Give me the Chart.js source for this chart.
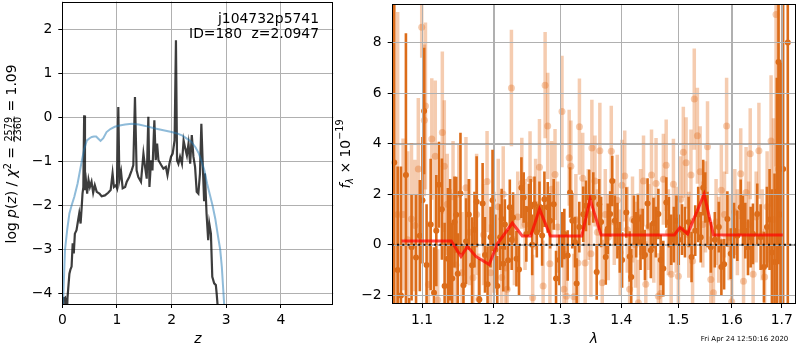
<!DOCTYPE html>
<html lang="en">
	<head>
		<meta charset="UTF-8" />
		<title>p(z) and spectrum</title>
		<script src="https://cdn.jsdelivr.net/npm/chart.js"></script>
		<style>
			body {
				margin: 0;
				width: 800px;
				height: 350px;
				background: #fff;
				position: relative;
				overflow: hidden;
			}
			#pzChart {
				position: absolute;
				left: 0;
				top: 0;
			}
			#specChart {
				position: absolute;
				left: 330px;
				top: 0;
			}
		</style>
	</head>
	<body>
		<canvas id="pzChart" width="340" height="350"></canvas>
		<canvas id="specChart" width="470" height="350"></canvas>
		<script>
			// ---- left panel: log p(z) ----
			const zTicks = [0, 1, 2, 3, 4];
			const pTicks = [-4, -3, -2, -1, 0, 1, 2];

			const zFit = [0.0, 0.02, 0.05, 0.09, 0.13, 0.17, 0.22, 0.28, 0.355, 0.4, 0.45, 0.5, 0.54, 0.58, 0.62, 0.66, 0.7, 0.75, 0.81, 0.88, 0.96, 1.05, 1.15, 1.27, 1.4, 1.55, 1.7, 1.85, 2.0, 2.1, 2.2, 2.28, 2.36, 2.44, 2.5, 2.55, 2.6, 2.65, 2.7, 2.75, 2.8, 2.85, 2.89, 2.92, 2.95, 2.98];
			const pFit = [-4.7, -4.0, -3.0, -2.55, -2.18, -2.0, -1.8, -1.5, -1.0, -0.72, -0.52, -0.47, -0.44, -0.43, -0.43, -0.48, -0.53, -0.47, -0.33, -0.26, -0.21, -0.18, -0.16, -0.14, -0.16, -0.2, -0.25, -0.29, -0.33, -0.36, -0.41, -0.48, -0.55, -0.68, -0.82, -1.0, -1.2, -1.5, -1.75, -2.0, -2.3, -2.7, -3.0, -3.4, -4.0, -4.6];

			const zRaw = [0.0, 0.01, 0.03, 0.05, 0.06, 0.085, 0.095, 0.13, 0.15, 0.17, 0.19, 0.21, 0.23, 0.26, 0.29, 0.31, 0.335, 0.355, 0.37, 0.385, 0.4, 0.415, 0.435, 0.455, 0.48, 0.505, 0.535, 0.565, 0.595, 0.63, 0.68, 0.72, 0.78, 0.84, 0.885, 0.92, 0.945, 0.98, 1.0, 1.025, 1.045, 1.075, 1.105, 1.15, 1.18, 1.225, 1.27, 1.3, 1.33, 1.36, 1.39, 1.44, 1.485, 1.515, 1.545, 1.575, 1.595, 1.625, 1.65, 1.685, 1.71, 1.735, 1.76, 1.81, 1.85, 1.895, 1.925, 1.96, 1.99, 2.02, 2.055, 2.08, 2.1, 2.125, 2.155, 2.19, 2.22, 2.25, 2.28, 2.31, 2.34, 2.37, 2.4, 2.43, 2.46, 2.49, 2.52, 2.545, 2.57, 2.595, 2.61, 2.64, 2.67, 2.69, 2.72, 2.745, 2.78, 2.81, 2.825, 2.84, 2.86];
			const pRaw = [-4.3, -4.1, -4.12, -4.1, -4.5, -4.5, -4.1, -3.55, -3.45, -3.39, -2.86, -3.09, -2.64, -2.56, -2.33, -2.18, -2.41, -2.03, -1.73, -1.58, 0.05, -1.65, -1.46, -1.73, -1.42, -1.58, -1.46, -1.71, -1.54, -1.69, -1.73, -1.79, -1.77, -1.71, -1.65, -1.27, -1.58, -1.54, -1.6, 0.24, -1.42, -1.23, -1.61, -1.58, -1.46, -1.35, -1.2, -1.08, 0.47, -1.2, -1.35, -1.46, -0.82, -1.12, -1.39, 0.02, -1.58, -0.97, -1.2, -0.06, -0.97, -0.59, -0.97, -1.08, -1.16, -1.12, -1.31, -1.05, -0.89, -0.82, -0.52, 1.76, -0.97, -1.05, -0.89, -1.05, -0.52, -0.7, -0.86, -0.59, -1.05, -0.4, -0.89, -1.12, -1.69, -1.73, -1.27, -0.14, -1.05, -1.88, -1.27, -2.18, -2.79, -2.41, -2.64, -3.62, -3.77, -3.81, -4.0, -4.23, -4.6];

			// ---- right panel: spectrum ----
			const lamTicks = [1.1, 1.2, 1.3, 1.4, 1.5, 1.6, 1.7];
			const fTicks = [-2, 0, 2, 4, 6, 8];

			const lamDark = [1.0636, 1.068, 1.0722, 1.0787, 1.083, 1.0861, 1.092, 1.097, 1.1005, 1.1027, 1.106, 1.1115, 1.116, 1.1191, 1.1227, 1.1267, 1.1304, 1.1349, 1.138, 1.1409, 1.144, 1.1464, 1.1485, 1.1523, 1.1565, 1.1602, 1.164, 1.1686, 1.172, 1.1751, 1.1789, 1.1836, 1.187, 1.1907, 1.195, 1.1979,
				1.202, 1.2048, 1.209, 1.2112, 1.2135, 1.2159, 1.2207, 1.2232, 1.226, 1.228, 1.2331, 1.2369, 1.2405, 1.2439, 1.2479, 1.2518, 1.2545, 1.2568, 1.2603, 1.2638, 1.2679, 1.272, 1.2755, 1.2806, 1.2843, 1.2899, 1.2936, 1.2988, 1.303, 1.3066, 1.3119, 1.3157, 1.3193, 1.3236, 1.3262, 1.3305, 1.3369, 1.3412, 1.3466,
				1.3532, 1.3588, 1.363, 1.3661, 1.3738, 1.3771, 1.3811, 1.3846, 1.3889, 1.3933, 1.3973, 1.4012, 1.4084, 1.4141, 1.4168, 1.4215, 1.4253, 1.4282, 1.4328, 1.4366, 1.4405, 1.4451, 1.4508, 1.4555, 1.4595, 1.4641, 1.4682, 1.4729, 1.4782, 1.4829, 1.487, 1.4918, 1.4964, 1.5006, 1.5066, 1.512, 1.5187,
				1.5241, 1.5309, 1.5364, 1.5411, 1.5457, 1.5495, 1.5538, 1.5601, 1.5676, 1.5752, 1.5801, 1.5853, 1.5916, 1.5981, 1.6045, 1.6109, 1.6175, 1.622, 1.6265, 1.6318, 1.6371, 1.6416, 1.6502, 1.6569, 1.6636, 1.6696, 1.675, 1.6797, 1.6851, 1.6898, 1.6932, 1.6973, 1.7027, 1.7123];
			const fluxDark = [3.25, -1.0, -2.0, 2.76, -2.6, -0.1, -0.5, 0.36, 1.76, 5.29, -0.8, 0.8, -1.9, 0.56, 2.37, 1.41, -1.63, -0.55, 0.2, -1.33, 0.9, 1.19, -1.14, 2.03, -1.6, 0.14, 1.2, -0.81, 0.6, 1.7, -2.16, 1.63, -0.4, -1.56, 0.3, 1.76,
				-0.2, -1.63, 0.3, 1.02, -0.75, 0.8, -0.61, 1.48, 0.2, 1.08, -0.55, -0.98, 2.26, 1.87, 0.43, 1.41, 1.5, 0.0, 1.6, 0.5, 1.5, 0.37, 1.8, 1.48, 0.95, 1.6, -1.33, -0.6, 0.2, 0.43, -0.42, 2.07, 0.95, 0.1, -1.53, 0.7, 1.21, 1.54, 1.87,
				1.87, -1.07, 1.6, 0.9, -0.48, 0.63, 1.22, 2.52, 0.95, 0.56, -0.1, -0.6, 1.28, -0.46, -1.27, 0.95, 0.4, 1.02, 0.1, 0.43, -0.4, 1.63, -0.22, 0.85, 0.5, 1.22, -0.6, -0.94, 1.67, 0.89, 0.2, 0.4, 0.95, 0.2, 0.6, 0.5, 0.9,
				-0.48, 0.56, 1.2, 0.3, 2.26, 1.87, 1.0, -0.1, 0.2, 0.7, -0.88, -0.77, 1.02, -0.35, 0.56, 0.36, 1.48, 0.95, 0.56, -0.1, 0.3, 0.43, 1.22, 0.3, -0.88, 0.7, 1.0, -0.3, -0.68, 2.1, 7.23, 1.2, 3.0, 8.0];
			const errDark = [9.0, 4.1, 5.1, 5.6, 0.5, 2.1, 2.5, 2.2, 2.5, 2.5, 2.4, 2.6, 1.8, 2.2, 1.7, 2.0, 2.5, 2.8, 2.4, 2.2, 1.8, 1.5, 1.6, 2.4, 1.6, 1.7, 1.4, 1.9, 1.5, 1.8, 1.6, 1.6, 1.5, 1.5, 1.2, 2.0,
				1.4, 1.2, 1.3, 1.2, 1.1, 1.0, 1.2, 1.1, 1.2, 1.0, 1.1, 1.0, 1.2, 1.0, 1.1, 1.0, 1.1, 1.2, 1.1, 1.0, 1.0, 1.2, 1.1, 1.0, 1.1, 1.0, 1.1, 1.0, 1.1, 1.0, 1.0, 1.0, 1.1, 1.0, 1.0, 1.0, 1.1, 1.0, 1.1,
				1.0, 1.1, 1.0, 1.0, 1.1, 1.0, 0.9, 1.0, 1.0, 1.1, 1.0, 1.1, 1.0, 1.0, 1.1, 1.0, 0.9, 1.0, 1.1, 1.0, 1.0, 1.0, 1.1, 1.0, 1.0, 1.0, 1.0, 1.1, 1.0, 1.0, 1.0, 1.1, 1.0, 1.0, 1.0, 1.0, 1.0,
				1.0, 1.0, 1.1, 1.0, 1.1, 1.0, 1.1, 1.0, 1.1, 1.0, 1.1, 1.0, 1.1, 1.0, 1.1, 1.0, 1.1, 1.0, 1.1, 1.1, 1.2, 1.2, 1.2, 1.3, 1.4, 1.6, 2.0, 2.5, 3.5, 4.5, 8.0, 6.0, 8.0, 12.0];

			const lamLight = [1.068, 1.075, 1.081, 1.086, 1.0905, 1.095, 1.0995, 1.103, 1.1045, 1.1085, 1.113, 1.1177, 1.121, 1.1273, 1.13, 1.134, 1.138, 1.142, 1.146, 1.15, 1.1545, 1.16, 1.165, 1.17, 1.175, 1.1782, 1.185, 1.19, 1.195,
				1.2, 1.2062, 1.2112, 1.2135, 1.217, 1.2193, 1.2256, 1.23, 1.235, 1.2411, 1.246, 1.2535, 1.2575, 1.262, 1.2679, 1.2735, 1.2766, 1.2806, 1.284, 1.2867, 1.292, 1.296, 1.3029, 1.306, 1.31, 1.3143, 1.317, 1.3217, 1.325, 1.3282, 1.3307, 1.336, 1.34, 1.345, 1.3493,
				1.3509, 1.356, 1.36, 1.364, 1.368, 1.373, 1.378, 1.383, 1.388, 1.393, 1.398, 1.401, 1.4057, 1.41, 1.4141, 1.419, 1.424, 1.429, 1.433, 1.438, 1.442, 1.447, 1.452, 1.456, 1.46, 1.464, 1.4682, 1.473, 1.478, 1.482, 1.487, 1.491, 1.496,
				1.5, 1.504, 1.509, 1.514, 1.519, 1.523, 1.526, 1.5291, 1.5349, 1.54, 1.545, 1.55, 1.5538, 1.56, 1.565, 1.57, 1.575, 1.58, 1.586, 1.5901, 1.595, 1.6, 1.606, 1.611, 1.6175, 1.623, 1.628, 1.633, 1.6362, 1.642, 1.648, 1.6535, 1.66, 1.665, 1.67, 1.678, 1.683, 1.6881, 1.693];
			const fluxLight = [1.2, 1.2, 0.2, 1.02, 0.76, 3.0, 8.6, 4.92, 5.49, -1.57, 4.18, 3.5, -2.18, 4.44, 3.11, 1.6, -0.2, 1.9, -0.8, 2.0, -1.1, 2.26, 0.5, -1.3, 1.2, -2.14, 0.4, 2.5, -1.1,
				0.1, 1.5, -1.29, 2.0, -0.92, -1.76, 6.2, 0.2, 1.1, 2.43, 0.8, 2.59, -2.09, 1.6, 3.07, -1.63, 6.31, 4.7, -0.75, 2.2, 2.78, 0.7, 5.27, -1.76, -2.03, 3.44, 3.11, -2.05, 1.0, -0.72, 4.67, 2.63, -0.72, 1.2, -0.35,
				3.83, 2.52, 0.5, 3.72, -1.5, 1.2, 0.3, 3.7, 0.9, 1.76, -0.3, 2.35, 2.72, 0.6, -1.76, 1.0, 0.0, -2.29, 1.3, 2.52, -1.56, 0.7, 2.76, 0.2, 2.42, -2.03, -1.92, 2.59, 3.15, 0.5, -1.16, 2.39, 0.6,
				-1.24, 1.8, 3.66, 3.24, 0.4, 2.76, -0.64, 5.76, 4.31, 2.89, 0.8, 1.5, 3.88, -1.37, -1.9, 0.9, 0.2, 2.16, 1.2, 4.7, 0.3, -2.25, 1.3, 0.5, 2.81, -1.44, 2.07, 0.8, 3.6, -1.16, 1.1, 3.72, 0.4, -1.27, 1.5, 4.1, 1.0, 9.1, 3.0];
			const errLight = [8.0, 3.0, 3.5, 3.0, 2.6, 2.8, 1.2, 3.0, 3.3, 2.5, 2.4, 3.0, 2.0, 3.2, 2.6, 2.0, 2.4, 2.2, 2.0, 2.0, 2.4, 2.0, 2.1, 2.2, 2.4, 1.8, 2.0, 2.0, 1.9,
				2.0, 1.9, 1.8, 1.9, 1.8, 1.7, 2.3, 1.8, 1.8, 1.8, 1.8, 1.9, 1.7, 1.8, 1.9, 1.8, 2.1, 2.1, 1.8, 1.9, 1.8, 1.8, 2.2, 1.7, 1.8, 1.9, 1.8, 1.7, 1.8, 1.8, 1.9, 1.8, 1.7, 1.8, 1.7,
				1.9, 1.8, 1.7, 1.9, 1.7, 1.8, 1.7, 1.8, 1.7, 1.8, 1.7, 1.8, 1.8, 1.7, 1.7, 1.7, 1.7, 1.7, 1.7, 1.8, 1.7, 1.7, 1.8, 1.7, 1.8, 1.7, 1.7, 1.8, 1.8, 1.7, 1.7, 1.8, 1.7,
				1.7, 1.7, 1.8, 1.8, 1.7, 1.8, 1.7, 2.0, 1.9, 1.8, 1.7, 1.8, 1.8, 1.7, 1.7, 1.7, 1.7, 1.8, 1.7, 1.9, 1.7, 1.7, 1.7, 1.7, 1.8, 1.7, 1.8, 1.7, 1.8, 1.7, 1.8, 1.9, 1.8, 1.9, 2.2, 2.6, 4.0, 6.0, 8.0];

			// template fit (red)
			const lamModel = [1.073, 1.1395, 1.153, 1.162, 1.174, 1.193, 1.205, 1.227, 1.2418, 1.2545, 1.268, 1.2848, 1.3345, 1.348, 1.366, 1.4927, 1.503, 1.5168, 1.5474, 1.565, 1.702];
			const fluxModel = [0.15, 0.15, -0.46, -0.07, -0.46, -0.78, 0.04, 0.86, 0.35, 0.35, 1.41, 0.35, 0.35, 1.8, 0.39, 0.39, 0.69, 0.43, 2.0, 0.39, 0.39];

			const FONT = "DejaVu Sans";
			const toPts = (xs, ys) => xs.map((x, i) => ({ x: x, y: ys[i] }));
			const minus = (v) => (v < 0 ? "\u2212" + Math.abs(v) : String(v));

			const fixAxis = (w, h) => (scale) => {
				if (w != null) scale.width = w;
				if (h != null) scale.height = h;
				scale.paddingTop = 0;
				scale.paddingBottom = 0;
				scale.paddingLeft = 0;
				scale.paddingRight = 0;
			};
			const setTicks = (vals) => (scale) => {
				scale.ticks = vals.map((v) => ({ value: v }));
			};

			// rotated label made of pieces (for sub/superscripts and the fraction)
			const drawRich = (ctx, pieces, cx, cy) => {
				let total = 0;
				pieces.forEach((p) => {
					ctx.font = p.font;
					if (p.num) {
						p.w = Math.max(ctx.measureText(p.num).width, ctx.measureText(p.den).width) + 2;
					} else {
						p.w = ctx.measureText(p.t).width;
					}
					total += p.w;
				});
				ctx.save();
				ctx.translate(cx, cy);
				ctx.rotate(-Math.PI / 2);
				ctx.fillStyle = "#000";
				ctx.textBaseline = "alphabetic";
				let u = -total / 2;
				pieces.forEach((p) => {
					ctx.font = p.font;
					if (p.num) {
						ctx.textAlign = "center";
						ctx.fillText(p.num, u + p.w / 2, p.numY);
						ctx.fillText(p.den, u + p.w / 2, p.denY);
						ctx.fillRect(u + 0.5, p.barY, p.w - 1, 0.8);
					} else {
						ctx.textAlign = "left";
						ctx.fillText(p.t, u, p.dy);
					}
					u += p.w;
				});
				ctx.restore();
			};

			const F = `13.9px "${FONT}"`;
			const FI = `italic 13.9px "${FONT}"`;
			const FS = `9.7px "${FONT}"`;
			const FSI = `italic 9.7px "${FONT}"`;

			const frame = {
				id: "frame",
				afterDraw(chart) {
					const a = chart.chartArea;
					const ctx = chart.ctx;
					ctx.save();
					ctx.strokeStyle = "#000";
					ctx.lineWidth = 1;
					ctx.strokeRect(Math.round(a.left) + 0.5, Math.round(a.top) + 0.5, Math.round(a.right - a.left) - 1, Math.round(a.bottom - a.top) - 1);
					ctx.restore();
				},
			};

			const pzLabels = {
				id: "pzLabels",
				afterDraw(chart) {
					const ctx = chart.ctx;
					ctx.save();
					ctx.fillStyle = "#000";
					ctx.font = F;
					ctx.textAlign = "right";
					ctx.textBaseline = "middle";
					ctx.fillText("j104732p5741", 319, 19.5);
					ctx.fillText("ID=180", 242, 34.5);
					ctx.fillText("z=2.0947", 319, 34.5);
					ctx.restore();
					drawRich(ctx, [
						{ t: "log ", font: F, dy: 4.3 },
						{ t: "p", font: FI, dy: 4.3 },
						{ t: "(", font: F, dy: 4.3 },
						{ t: "z", font: FI, dy: 4.3 },
						{ t: ") / ", font: F, dy: 4.3 },
						{ t: "\u03c7", font: FI, dy: 4.3 },
						{ t: "2", font: FS, dy: -1.5 },
						{ t: " = ", font: F, dy: 4.3 },
						{ num: "2579", den: "2360", font: FS, numY: 0, denY: 8.7, barY: 1.8 },
						{ t: " = 1.09", font: F, dy: 4.3 },
					], 12, 154);
				},
			};

			new Chart(document.getElementById("pzChart"), {
				type: "scatter",
				data: {
					datasets: [
						{
							data: toPts(zFit, pFit),
							showLine: true,
							borderColor: "rgba(31, 119, 180, 0.5)",
							borderWidth: 2,
							pointRadius: 0,
							order: 0,
						},
						{
							data: toPts(zRaw, pRaw),
							showLine: true,
							borderColor: "rgba(0, 0, 0, 0.76)",
							borderWidth: 2.2,
							pointRadius: 0,
							order: 1,
						},
					],
				},
				options: {
					responsive: false,
					animation: false,
					clip: 0,
					layout: { padding: { top: 1.5, right: 6.7, left: 0, bottom: 0 } },
					plugins: { legend: { display: false }, tooltip: { enabled: false } },
					scales: {
						x: {
							type: "linear",
							min: 0,
							max: 4.96,
							afterBuildTicks: setTicks(zTicks),
							afterFit: fixAxis(null, 46),
							border: { display: false },
							grid: { color: "#b0b0b0", lineWidth: 1, tickColor: "#000", tickLength: 4 },
							ticks: { color: "#000", font: { family: FONT, size: 13.9 }, padding: 4, maxRotation: 0 },
							title: { display: true, text: "z", color: "#000", font: { family: FONT, size: 13.9, style: "italic" }, padding: { top: 0, bottom: 2 } },
						},
						y: {
							min: -4.24,
							max: 2.64,
							afterBuildTicks: setTicks(pTicks),
							afterFit: fixAxis(62.3, null),
							border: { display: false },
							grid: { color: "#b0b0b0", lineWidth: 1, tickColor: "#000", tickLength: 4 },
							ticks: { color: "#000", font: { family: FONT, size: 13.9 }, padding: 6, callback: (v) => minus(v) },
						},
					},
				},
				plugins: [frame, pzLabels],
			});

			// error bars + grid drawn above the points, below the model line
			const errBars = {
				id: "errBars",
				beforeDatasetDraw(chart, args) {
					const ds = chart.data.datasets[args.index];
					const ctx = chart.ctx;
					const a = chart.chartArea;
					const xs = chart.scales.x;
					const ys = chart.scales.y;
					ctx.save();
					ctx.beginPath();
					ctx.rect(a.left, a.top, a.right - a.left, a.bottom - a.top);
					ctx.clip();
					if (ds.err) {
						ctx.strokeStyle = ds.barColor;
						ctx.lineWidth = ds.barWidth;
						ds.data.forEach((p, i) => {
							const px = xs.getPixelForValue(p.x);
							ctx.beginPath();
							ctx.moveTo(px, ys.getPixelForValue(p.y + ds.err[i]));
							ctx.lineTo(px, ys.getPixelForValue(p.y - ds.err[i]));
							ctx.stroke();
						});
					}
					if (ds.gridBefore) {
						ctx.strokeStyle = "#b0b0b0";
						ctx.lineWidth = 1;
						ctx.beginPath();
						xs.ticks.forEach((t) => {
							const px = Math.round(xs.getPixelForValue(t.value)) + 0.5;
							ctx.moveTo(px, a.top);
							ctx.lineTo(px, a.bottom);
						});
						ys.ticks.forEach((t) => {
							const py = Math.round(ys.getPixelForValue(t.value)) + 0.5;
							ctx.moveTo(a.left, py);
							ctx.lineTo(a.right, py);
						});
						ctx.stroke();
					}
					ctx.restore();
				},
			};

			const specLabels = {
				id: "specLabels",
				afterDraw(chart) {
					const ctx = chart.ctx;
					drawRich(ctx, [
						{ t: "f", font: FI, dy: 4.5 },
						{ t: "\u03bb", font: FSI, dy: 7.5 },
						{ t: " \u00d7 10", font: F, dy: 4.5 },
						{ t: "\u221219", font: FS, dy: -2 },
					], 15, 154);
					ctx.save();
					ctx.fillStyle = "#000";
					ctx.font = `7px "${FONT}"`;
					ctx.textAlign = "right";
					ctx.textBaseline = "middle";
					ctx.fillText("Fri Apr 24 12:50:16 2020", 458.3, 339.5);
					ctx.restore();
				},
			};

			const lamMin = 1.0603;
			const lamMax = 1.7294;

			new Chart(document.getElementById("specChart"), {
				type: "scatter",
				data: {
					datasets: [
						{
							data: toPts(lamLight, fluxLight),
							err: errLight,
							barColor: "rgba(225, 110, 30, 0.35)",
							barWidth: 3.5,
							backgroundColor: "rgba(225, 110, 30, 0.35)",
							borderWidth: 0,
							pointRadius: 3.5,
							order: 3,
						},
						{
							data: toPts(lamDark, fluxDark),
							err: errDark,
							barColor: "rgb(220, 108, 25)",
							barWidth: 2.6,
							backgroundColor: "rgb(220, 108, 25)",
							borderWidth: 0,
							pointRadius: 3,
							order: 2,
						},
						{
							data: toPts(lamModel, fluxModel),
							gridBefore: true,
							showLine: true,
							borderColor: "rgba(255, 0, 0, 0.7)",
							borderWidth: 3,
							pointRadius: 0,
							order: 1,
						},
						{
							data: [{ x: lamMin, y: 0 }, { x: lamMax, y: 0 }],
							showLine: true,
							borderColor: "rgba(0, 0, 0, 0.85)",
							borderWidth: 2,
							borderDash: [2, 3.3],
							pointRadius: 0,
							order: 0,
						},
					],
				},
				options: {
					responsive: false,
					animation: false,
					clip: 0,
					layout: { padding: { top: 1.5, right: 0.7, left: 0, bottom: 0 } },
					plugins: { legend: { display: false }, tooltip: { enabled: false } },
					scales: {
						x: {
							type: "logarithmic",
							min: lamMin,
							max: lamMax,
							afterBuildTicks: setTicks(lamTicks),
							afterFit: fixAxis(null, 46),
							border: { display: false },
							grid: { color: "#b0b0b0", lineWidth: 1, tickColor: "#000", tickLength: 4 },
							ticks: { color: "#000", font: { family: FONT, size: 13.9 }, padding: 4, maxRotation: 0, autoSkip: false, callback: (v) => Number(v).toFixed(1) },
							title: { display: true, text: "\u03bb", color: "#000", font: { family: FONT, size: 13.9, style: "italic" }, padding: { top: 0, bottom: 2 } },
						},
						y: {
							min: -2.34,
							max: 9.52,
							afterBuildTicks: setTicks(fTicks),
							afterFit: fixAxis(61.7, null),
							border: { display: false },
							grid: { color: "#b0b0b0", lineWidth: 1, tickColor: "#000", tickLength: 4 },
							ticks: { color: "#000", font: { family: FONT, size: 13.9 }, padding: 6, callback: (v) => minus(v) },
						},
					},
				},
				plugins: [errBars, frame, specLabels],
			});
		</script>
	</body>
</html>
